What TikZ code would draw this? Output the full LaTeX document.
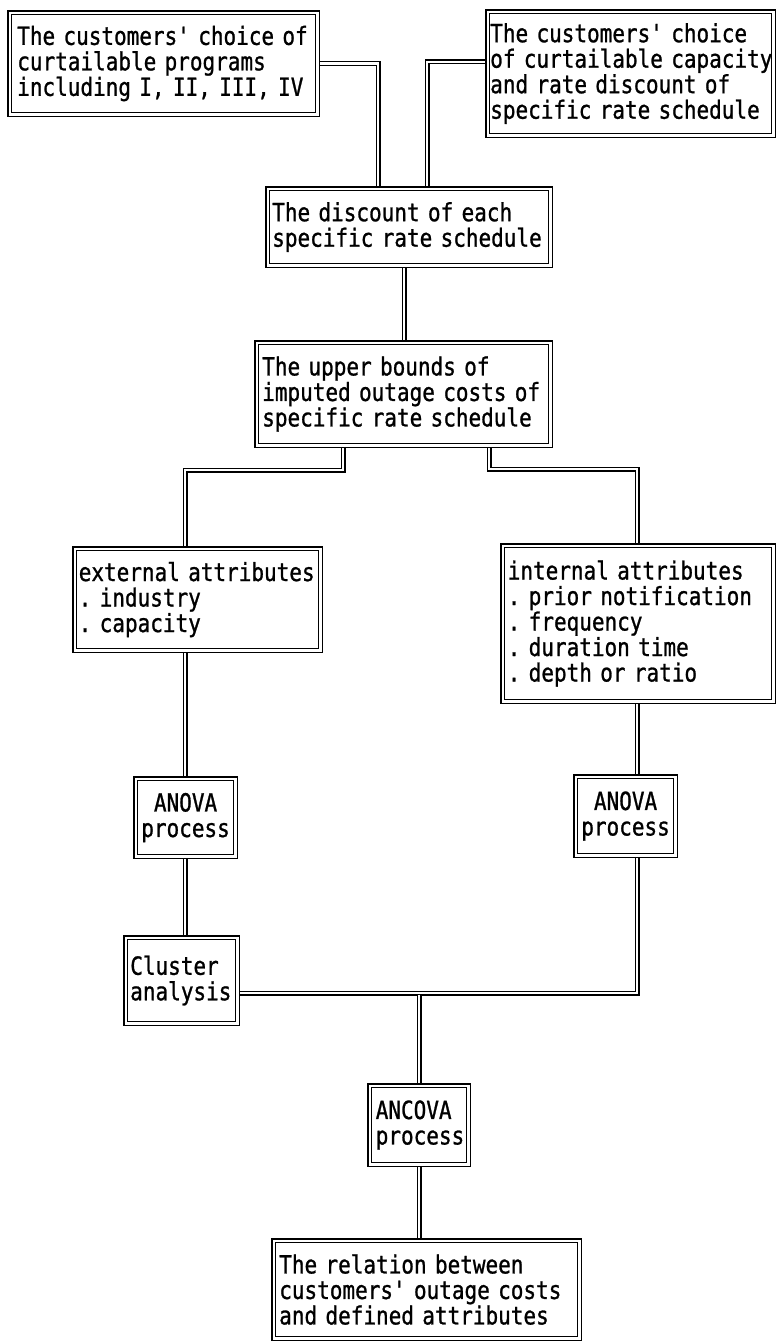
\documentclass[tikz,border=0pt]{standalone}
\usepackage{fontspec}
\setmonofont[FakeStretch=0.84,FakeBold=1]{DejaVu Sans Mono}
\newcommand{\boxfont}{\ttfamily\fontsize{25}{25.5}\selectfont
  \fontdimen3\font=0pt\fontdimen4\font=0pt}
\pgfdeclarelayer{bg}
\pgfsetlayers{bg,main}
\tikzset{
  dbl/.style={draw=black, line width=1.1pt, double=white, double distance=2.4pt},
  fbox/.style={dbl, fill=white, rectangle, anchor=north west, inner ysep=0pt,
    align=left, font=\boxfont},
  cbox/.style={fbox, align=center},
  conn/.style={dbl, double distance=2.8pt, line join=miter, line cap=butt},
}
\begin{document}
\begin{tikzpicture}[x=1pt,y=-1pt]
\useasboundingbox (0,0) rectangle (776,1343);

\node[fbox, inner xsep=7.5pt, text width=292.6pt, minimum height=101.6pt] (b1) at (9.2,12.2)
  {The~customers'~choice~of\\curtailable~programs\\including~I,~II,~III,~IV};
\node[fbox, inner xsep=2.5pt, text width=280.6pt, minimum height=123.6pt] (b2) at (487.2,11.2)
  {The~customers'~choice\\of~curtailable~capacity\\and~rate~discount~of\\specific~rate~schedule};
\node[fbox, inner xsep=4.5pt, text width=273.6pt, minimum height=76.6pt] (disc) at (267.2,188.2)
  {The~discount~of~each\\specific~rate~schedule};
\node[fbox, inner xsep=5.5pt, text width=282.6pt, minimum height=102.6pt] (ub) at (256.2,342.2)
  {The~upper~bounds~of\\imputed~outage~costs~of\\specific~rate~schedule};
\node[fbox, inner xsep=4pt, text width=237.6pt, minimum height=101.6pt] (ext) at (74.2,548.2)
  {external~attributes\\.~industry\\.~capacity};
\node[fbox, inner xsep=5pt, text width=260.6pt, minimum height=155.6pt] (int) at (502.2,545.2)
  {internal~attributes\\.~prior~notification\\.~frequency\\.~duration~time\\.~depth~or~ratio};
\node[cbox, inner xsep=5pt, text width=89.6pt, minimum height=77.6pt] (an1) at (135.2,778.2)
  {ANOVA\\process};
\node[cbox, inner xsep=5pt, text width=89.6pt, minimum height=78.6pt] (an2) at (575.2,776.2)
  {ANOVA\\process};
\node[fbox, inner xsep=4.5pt, text width=102.6pt, minimum height=85.6pt] (clu) at (125.2,937.2)
  {Cluster\\analysis};
\node[fbox, inner xsep=6pt, text width=86.6pt, minimum height=78.6pt] (anc) at (369.2,1085.2)
  {ANCOVA\\process};
\node[fbox, inner xsep=5.5pt, text width=294.6pt, minimum height=97.6pt] (fin) at (273.2,1240.2)
  {The~relation~between\\customers'~outage~costs\\and~defined~attributes};

\coordinate (x343) at (343,0);
\coordinate (x378) at (378,0);
\coordinate (x404) at (404,0);
\coordinate (x427) at (427,0);
\coordinate (x489) at (489,0);
\coordinate (y62) at (0,62);
\coordinate (j1) at (185,470);
\coordinate (j2) at (637,469);
\coordinate (j3) at (419,993);
\coordinate (j3b) at (419,994.5);

\begin{pgfonlayer}{bg}
\draw[conn] (b1.east) -| (disc.north -| x378);
\draw[conn] (b2.west |- y62) -| (disc.north -| x427);
\draw[conn] (disc.south -| x404) -- (ub.north -| x404);
\draw[conn] (ub.south -| x343) |- (j1) -- (ext.north -| j1);
\draw[conn] (ub.south -| x489) |- (j2) -- (int.north -| j2);
\draw[conn] (ext.south -| j1) -- (an1.north -| j1);
\draw[conn] (int.south -| j2) -- (an2.north -| j2);
\draw[conn] (an1.south -| j1) -- (clu.north -| j1);
\draw[conn] (clu.east |- j3) -| (an2.south -| j2);
\draw[conn] (j3b) -- (anc.north -| j3b);
\draw[conn] (anc.south -| j3) -- (fin.north -| j3);
\end{pgfonlayer}
\end{tikzpicture}
\end{document}
